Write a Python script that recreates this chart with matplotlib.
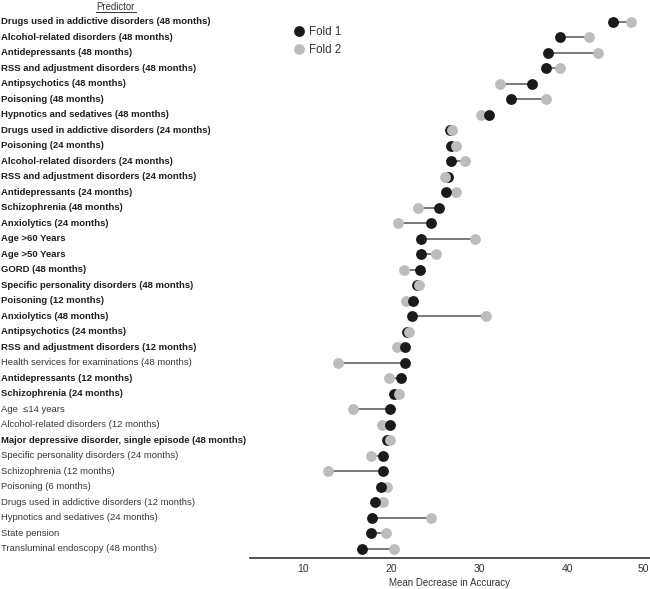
import numpy as np
import matplotlib
matplotlib.use("Agg")
import matplotlib.pyplot as plt
import matplotlib.transforms as mtransforms
from matplotlib.lines import Line2D

# DATA
predictors = [
    "Drugs used in addictive disorders (48 months)",
    "Alcohol-related disorders (48 months)",
    "Antidepressants (48 months)",
    "RSS and adjustment disorders (48 months)",
    "Antipsychotics (48 months)",
    "Poisoning (48 months)",
    "Hypnotics and sedatives (48 months)",
    "Drugs used in addictive disorders (24 months)",
    "Poisoning (24 months)",
    "Alcohol-related disorders (24 months)",
    "RSS and adjustment disorders (24 months)",
    "Antidepressants (24 months)",
    "Schizophrenia (48 months)",
    "Anxiolytics (24 months)",
    "Age >60 Years",
    "Age >50 Years",
    "GORD (48 months)",
    "Specific personality disorders (48 months)",
    "Poisoning (12 months)",
    "Anxiolytics (48 months)",
    "Antipsychotics (24 months)",
    "RSS and adjustment disorders (12 months)",
    "Health services for examinations (48 months)",
    "Antidepressants (12 months)",
    "Schizophrenia (24 months)",
    "Age  \u226414 years",
    "Alcohol-related disorders (12 months)",
    "Major depressive disorder, single episode (48 months)",
    "Specific personality disorders (24 months)",
    "Schizophrenia (12 months)",
    "Poisoning (6 months)",
    "Drugs used in addictive disorders (12 months)",
    "Hypnotics and sedatives (24 months)",
    "State pension",
    "Transluminal endoscopy (48 months)",
]

fold1 = [45.2, 39.2, 37.8, 37.6, 36.0, 33.6, 31.1, 26.7, 26.8, 26.8,
         26.4, 26.2, 25.4, 24.5, 23.4, 23.4, 23.2, 22.9, 22.5, 22.4,
         21.8, 21.5, 21.5, 21.1, 20.3, 19.8, 19.9, 19.5, 19.0, 19.0,
         18.8, 18.2, 17.8, 17.7, 16.7]

fold2 = [47.2, 42.4, 43.5, 39.1, 32.3, 37.5, 30.2, 26.9, 27.3, 28.4,
         26.1, 27.3, 23.0, 20.8, 29.5, 25.1, 21.4, 23.1, 21.7, 30.8,
         22.0, 20.6, 13.9, 19.7, 20.9, 15.7, 18.9, 19.8, 17.7, 12.8,
         19.5, 19.0, 24.5, 19.4, 20.3]

# predictors printed in bold in the reference
bold_predictors = predictors[:22] + [predictors[23], predictors[24], predictors[27]]

xticks = [10, 20, 30, 40, 50]

plt.rcParams["font.family"] = ["Liberation Sans", "DejaVu Sans"]

# PLOT
fig = plt.figure(figsize=(6.5, 5.89), dpi=100)
ax = fig.add_axes([0.3852, 0.0526, 0.637, 0.9304])

black = "#1a1a1a"
grey = "#bdbdbd"

for i in range(len(predictors)):
    a, b = fold1[i], fold2[i]
    ax.plot([a, b], [i, i], color="#555555", lw=1.1, zorder=1)
    # nearly equal values: grey sits on top, otherwise black on top
    z1, z2 = (3, 4) if abs(a - b) < 0.6 else (4, 3)
    ax.plot(a, i, "o", color=black, ms=7.8, mec="none", zorder=z1)
    ax.plot(b, i, "o", color=grey, ms=7.8, mec="none", zorder=z2)

ax.set_xlim(4.0, 51)
ax.set_ylim(len(predictors) - 0.4, -0.76)

for s in ["top", "right", "left"]:
    ax.spines[s].set_visible(False)
ax.spines["bottom"].set_color("#333333")
ax.spines["bottom"].set_linewidth(1.2)
ax.set_yticks([])
ax.set_xticks(xticks)
ax.tick_params(axis="x", length=0, pad=4, labelsize=7.5, labelcolor="#333333")
# last tick label sits at the right edge of the picture: pull it in a little
lab50 = ax.get_xticklabels()[-1]
lab50.set_transform(lab50.get_transform() + mtransforms.ScaledTranslation(-9 / 72, 0, fig.dpi_scale_trans))
ax.set_xlabel("Mean Decrease in Accuracy", fontsize=7, color="#333333")
ax.xaxis.set_label_coords(0.482, -0.037)

# predictor labels, left aligned at the figure edge
trans = mtransforms.blended_transform_factory(fig.transFigure, ax.transData)
for i, name in enumerate(predictors):
    is_bold = name in bold_predictors
    ax.text(0.002, i, name, transform=trans, ha="left", va="center",
            fontsize=6.8, fontweight="bold" if is_bold else "normal",
            color="#1e1e1e" if is_bold else "#383838")

# header
fig.text(0.178, 0.996, "Predictor", ha="center", va="top", fontsize=6.9, color="#333333")
fig.add_artist(Line2D([0.147, 0.209], [0.980, 0.980], color="#333333", lw=0.7))

handles = [
    Line2D([], [], marker="o", ls="none", color=black, ms=7.8, mec="none", label="Fold 1"),
    Line2D([], [], marker="o", ls="none", color=grey, ms=7.8, mec="none", label="Fold 2"),
]
fig.legend(handles=handles, loc="upper left", bbox_to_anchor=(0.441, 0.965),
           frameon=False, fontsize=8.3, handletextpad=0.25, labelspacing=0.45,
           borderpad=0, handlelength=1.2, labelcolor="#333333")

fig.savefig("out.png", dpi=100)
